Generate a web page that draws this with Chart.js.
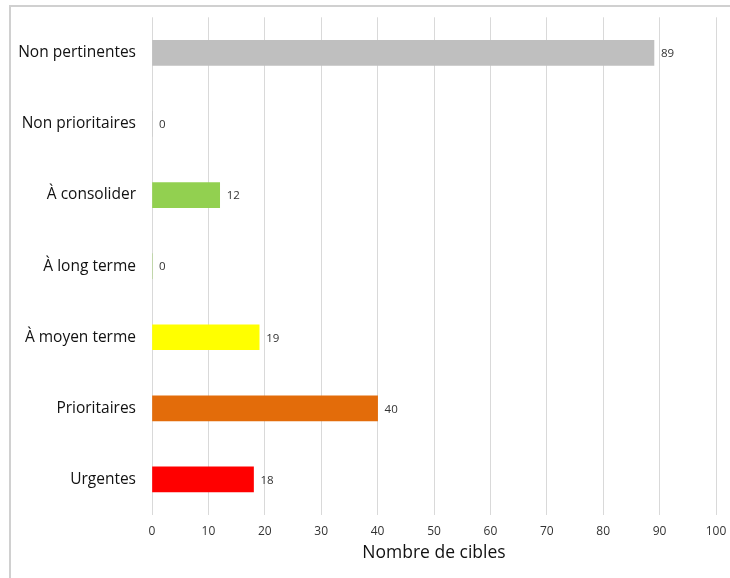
<!DOCTYPE html>
<html lang="fr">
<head>
    <meta charset="UTF-8">
    <title>Nombre de cibles</title>
    <script src="https://cdn.jsdelivr.net/npm/chart.js"></script>
    <style>
        body {
            margin: 0;
            background: #fff;
        }

        #frame {
            position: absolute;
            left: 9px;
            top: 5px;
            width: 730px;
            height: 600px;
            border-left: 2px solid #d0d0d0;
            border-top: 2px solid #d0d0d0;
        }

        #wrap {
            position: absolute;
            left: 0;
            top: 0;
            width: 730px;
            height: 578px;
        }
    </style>
</head>
<body>
    <div id="frame"></div>
    <div id="wrap"><canvas id="chart"></canvas></div>

    <script>
        const categories = ['Non pertinentes', 'Non prioritaires', 'À consolider', 'À long terme', 'À moyen terme', 'Prioritaires', 'Urgentes'];
        const counts = [89, 0, 12, 0, 19, 40, 18];
        const barColors = ['#bfbfbf', '#bfbfbf', '#92d050', '#92d050', '#ffff00', '#e36c0a', '#ff0000'];
        const xTicks = [0, 10, 20, 30, 40, 50, 60, 70, 80, 90, 100];

        // write the value just right of each bar
        const valueLabels = {
            id: 'valueLabels',
            afterDatasetsDraw(chart) {
                const ctx = chart.ctx;
                const meta = chart.getDatasetMeta(0);
                ctx.save();
                ctx.font = '11.5px "Open Sans"';
                ctx.fillStyle = '#333';
                ctx.textBaseline = 'middle';
                ctx.textAlign = 'left';
                meta.data.forEach(function (bar, i) {
                    ctx.fillText(String(counts[i]), bar.x + 7, bar.y + 1);
                });
                ctx.restore();
            }
        };

        new Chart(document.getElementById('chart'), {
            type: 'bar',
            data: {
                labels: categories,
                datasets: [{
                    data: counts,
                    backgroundColor: barColors,
                    barThickness: 25
                }]
            },
            options: {
                indexAxis: 'y',
                responsive: true,
                maintainAspectRatio: false,
                animation: false,
                layout: { padding: { left: 0, right: 0, top: 10, bottom: 14 } },
                plugins: {
                    legend: { display: false },
                    tooltip: { enabled: false }
                },
                scales: {
                    x: {
                        min: 0,
                        max: 100,
                        afterBuildTicks(scale) {
                            scale.ticks = xTicks.map(v => ({ value: v }));
                        },
                        afterFit(scale) {
                            scale.height = 49;
                            scale.paddingRight = 14;
                        },
                        grid: { color: '#d9d9d9', drawTicks: false, lineWidth: 1 },
                        border: { display: false },
                        ticks: {
                            padding: 9,
                            color: '#333',
                            font: { family: 'Open Sans', size: 12 }
                        },
                        title: {
                            display: true,
                            text: 'Nombre de cibles',
                            color: '#111',
                            padding: { top: 6, bottom: 0 },
                            font: { family: 'Open Sans', size: 17.5 }
                        }
                    },
                    y: {
                        afterFit(scale) { scale.width = 152; },
                        grid: { display: false },
                        border: { display: false },
                        ticks: {
                            padding: 8,
                            color: '#111',
                            font: { family: 'Open Sans', size: 15.5 }
                        }
                    }
                }
            },
            plugins: [valueLabels]
        });
    </script>
</body>
</html>
